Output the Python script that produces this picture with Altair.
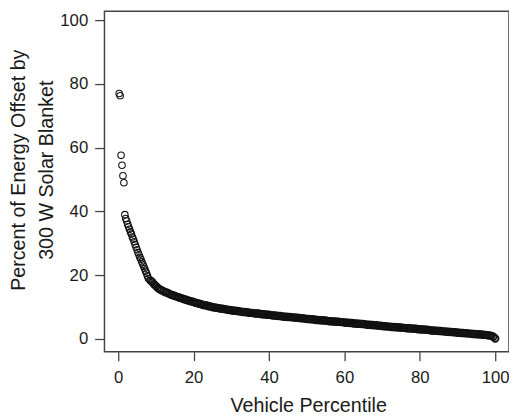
import altair as alt
import pandas as pd

# Percentile positions and percent of energy offset
pct_head = [0.25, 0.5, 0.75, 1.0, 1.25, 1.5, 1.75, 2.0, 2.25, 2.5, 2.75, 3.0,
            3.25, 3.5, 3.75, 4.0, 4.25, 4.5, 4.75, 5.0, 5.25, 5.5, 5.75, 6.0,
            6.25, 6.5, 6.75, 7.0, 7.25, 7.5, 7.75, 8.0]
val_head = [77.0, 76.3, 57.6, 54.5, 51.2, 49.0, 39.0, 37.8, 37.0, 36.0, 35.2, 34.4,
            33.6, 32.9, 32.0, 31.3, 30.5, 29.6, 28.8, 28.0, 27.1, 26.4, 25.6, 25.0,
            24.2, 23.5, 22.8, 22.1, 21.3, 20.6, 19.8, 19.0]

pct_tail = [8.5, 9.0, 9.5, 10.0, 10.5, 11.0, 11.5, 12.0, 12.5, 13.0, 13.5, 14.0,
            14.5, 15.0, 15.5, 16.0, 16.5, 17.0, 17.5, 18.0, 18.5, 19.0, 19.5, 20.0,
            20.5, 21.0, 21.5, 22.0, 22.5, 23.0, 23.5, 24.0, 24.5, 25.0, 25.5, 26.0,
            26.5, 27.0, 27.5, 28.0, 28.5, 29.0, 29.5, 30.0, 30.5, 31.0, 31.5, 32.0,
            32.5, 33.0, 33.5, 34.0, 34.5, 35.0, 35.5, 36.0, 36.5, 37.0, 37.5, 38.0,
            38.5, 39.0, 39.5, 40.0, 40.5, 41.0, 41.5, 42.0, 42.5, 43.0, 43.5, 44.0,
            44.5, 45.0, 45.5, 46.0, 46.5, 47.0, 47.5, 48.0, 48.5, 49.0, 49.5, 50.0,
            50.5, 51.0, 51.5, 52.0, 52.5, 53.0, 53.5, 54.0, 54.5, 55.0, 55.5, 56.0,
            56.5, 57.0, 57.5, 58.0, 58.5, 59.0, 59.5, 60.0, 60.5, 61.0, 61.5, 62.0,
            62.5, 63.0, 63.5, 64.0, 64.5, 65.0, 65.5, 66.0, 66.5, 67.0, 67.5, 68.0,
            68.5, 69.0, 69.5, 70.0, 70.5, 71.0, 71.5, 72.0, 72.5, 73.0, 73.5, 74.0,
            74.5, 75.0, 75.5, 76.0, 76.5, 77.0, 77.5, 78.0, 78.5, 79.0, 79.5, 80.0,
            80.5, 81.0, 81.5, 82.0, 82.5, 83.0, 83.5, 84.0, 84.5, 85.0, 85.5, 86.0,
            86.5, 87.0, 87.5, 88.0, 88.5, 89.0, 89.5, 90.0, 90.5, 91.0, 91.5, 92.0,
            92.5, 93.0, 93.5, 94.0, 94.5, 95.0, 95.5, 96.0, 96.5, 97.0, 97.5, 98.0,
            98.5, 99.0, 99.5, 100.0]
val_tail = [18.4, 17.9, 17.2, 16.6, 16.0, 15.6, 15.3, 15.0, 14.7, 14.5, 14.2, 13.9,
            13.7, 13.5, 13.3, 13.1, 12.9, 12.7, 12.5, 12.3, 12.1, 11.9, 11.8, 11.6,
            11.4, 11.2, 11.1, 10.9, 10.7, 10.6, 10.5, 10.3, 10.2, 10.0, 9.9, 9.8,
            9.7, 9.6, 9.5, 9.4, 9.3, 9.2, 9.1, 9.0, 8.9, 8.9, 8.8, 8.7,
            8.6, 8.5, 8.5, 8.4, 8.3, 8.2, 8.2, 8.1, 8.0, 8.0, 7.9, 7.8,
            7.8, 7.7, 7.6, 7.6, 7.5, 7.4, 7.4, 7.3, 7.2, 7.2, 7.1, 7.0,
            7.0, 6.9, 6.9, 6.8, 6.8, 6.7, 6.7, 6.6, 6.5, 6.5, 6.4, 6.3,
            6.3, 6.2, 6.2, 6.1, 6.0, 6.0, 5.9, 5.9, 5.8, 5.8, 5.7, 5.6,
            5.6, 5.5, 5.5, 5.4, 5.4, 5.3, 5.3, 5.2, 5.1, 5.1, 5.0, 5.0,
            4.9, 4.9, 4.8, 4.8, 4.7, 4.7, 4.6, 4.5, 4.5, 4.4, 4.4, 4.3,
            4.3, 4.2, 4.2, 4.1, 4.0, 4.0, 3.9, 3.9, 3.8, 3.8, 3.7, 3.7,
            3.6, 3.6, 3.5, 3.5, 3.4, 3.4, 3.3, 3.3, 3.2, 3.2, 3.1, 3.1,
            3.0, 3.0, 2.9, 2.9, 2.8, 2.7, 2.7, 2.6, 2.6, 2.5, 2.5, 2.4,
            2.4, 2.3, 2.3, 2.2, 2.2, 2.1, 2.1, 2.0, 2.0, 1.9, 1.9, 1.8,
            1.8, 1.7, 1.7, 1.6, 1.6, 1.5, 1.5, 1.4, 1.4, 1.3, 1.3, 1.2,
            1.1, 1.0, 0.7, 0.2]

x_ticks = [0, 20, 40, 60, 80, 100]
y_ticks = [0, 20, 40, 60, 80, 100]

df_head = pd.DataFrame({"pct": pct_head, "offset": val_head})
df_tail = pd.DataFrame({"pct": pct_tail, "offset": val_tail})

FONT = "Liberation Sans"
TEXT = "#1a1a1a"
LINE = "#444444"

x_enc = alt.X("pct:Q",
              scale=alt.Scale(domain=[-3.655, 103.66], nice=False, zero=False),
              axis=alt.Axis(values=x_ticks, format="d", title="Vehicle Percentile",
                            tickSize=9, labelPadding=9, labelFontSize=17,
                            titleFontSize=20, titleFontWeight="normal",
                            titleX=207, titleY=61, titleBaseline="alphabetic",
                            titleAlign="center", titleAnchor=None))
y_enc = alt.Y("offset:Q",
              scale=alt.Scale(domain=[-4.0, 102.78], nice=False, zero=False),
              axis=alt.Axis(values=y_ticks, format="d",
                            title=["Percent of Energy Offset by", "300 W Solar Blanket"],
                            tickSize=10, labelPadding=7, labelFontSize=17,
                            titleFontSize=20, titleFontWeight="normal",
                            titleAngle=270, titleX=-81, titleY=161,
                            titleBaseline="alphabetic", titleAlign="center",
                            titleLineHeight=28))

head = alt.Chart(df_head).mark_point(
    shape="circle", filled=False, size=44, strokeWidth=1.1, color="#111111", opacity=1
).encode(x=x_enc, y=y_enc)

tail = alt.Chart(df_tail).mark_point(
    shape="circle", filled=False, size=46, strokeWidth=1.8, color="#111111", opacity=1
).encode(x=x_enc, y=y_enc)

chart = alt.layer(head, tail).properties(
    width=411, height=346,
    padding={"left": 98, "top": 0, "right": 0, "bottom": 66},
    autosize="none",
).configure_view(
    stroke=LINE, strokeWidth=1.5
).configure_axis(
    grid=False, domain=False, tickColor=LINE, tickWidth=1.3,
    labelFont=FONT, titleFont=FONT, labelColor=TEXT, titleColor=TEXT,
)

chart.save("out.html", embed_options={"renderer": "svg", "actions": False})
